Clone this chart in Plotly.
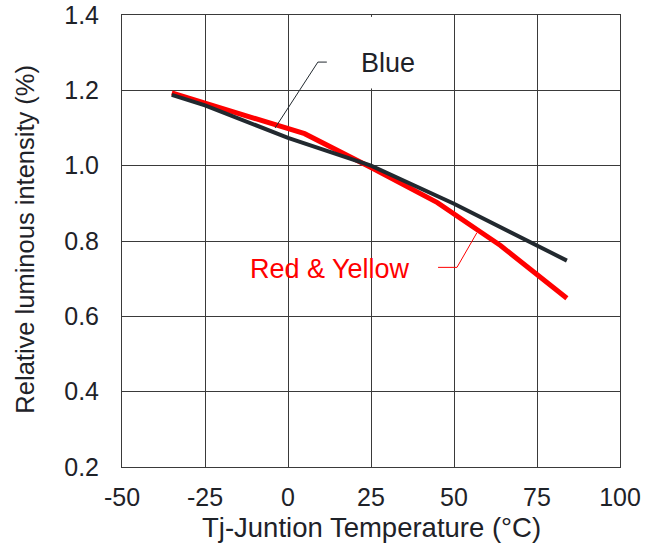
import plotly.graph_objects as go

# Data
blue_x = [-35, -25, 0, 25, 50, 75, 84]
blue_y = [1.188, 1.16, 1.074, 1.0, 0.899, 0.788, 0.748]

red_x = [-35, -15, 5, 25, 45, 57, 64, 84]
red_y = [1.193, 1.14, 1.085, 0.995, 0.902, 0.83, 0.788, 0.648]

# Leader lines for labels
blue_leader_x = [11.7, 9.0, -3.9]
blue_leader_y = [1.275, 1.275, 1.10]
red_leader_x = [45.2, 50.9, 56.9]
red_leader_y = [0.730, 0.730, 0.822]

x_ticks = [-50, -25, 0, 25, 50, 75, 100]
x_tick_text = ["-50", "-25", "0", "25", "50", "75", "100"]
y_ticks = [0.2, 0.4, 0.6, 0.8, 1.0, 1.2, 1.4]
y_tick_text = ["0.2", "0.4", "0.6", "0.8", "1.0", "1.2", "1.4"]

FONT = "Liberation Sans, Arial, sans-serif"
TXT = "#1e2228"
GRID = "#3a3a3a"

fig = go.Figure()
fig.add_trace(go.Scatter(x=red_x, y=red_y, mode="lines",
                         line=dict(color="#ff0000", width=5), showlegend=False))
fig.add_trace(go.Scatter(x=blue_x, y=blue_y, mode="lines",
                         line=dict(color="#22292f", width=4), showlegend=False))
fig.add_trace(go.Scatter(x=blue_leader_x, y=blue_leader_y, mode="lines",
                         line=dict(color="#22292f", width=1), showlegend=False))
fig.add_trace(go.Scatter(x=red_leader_x, y=red_leader_y, mode="lines",
                         line=dict(color="#ff0000", width=1), showlegend=False))

fig.add_annotation(x=30.1, y=1.273, text="Blue", showarrow=False,
                   font=dict(family=FONT, size=27, color=TXT))
fig.add_annotation(x=12.65, y=0.727, text="Red &amp; Yellow", showarrow=False,
                   font=dict(family=FONT, size=27, color="#ff0000"))

# axis titles
fig.add_annotation(xref="paper", yref="paper", x=0.5, y=-0.133,
                   xanchor="center", yanchor="middle", showarrow=False,
                   text="Tj-Juntion Temperature (°C)",
                   font=dict(family=FONT, size=27.5, color=TXT))
fig.add_annotation(xref="paper", yref="paper", x=-0.195, y=0.505,
                   xanchor="center", yanchor="middle", showarrow=False,
                   textangle=-90, text="Relative luminous intensity (%)",
                   font=dict(family=FONT, size=25.5, color=TXT))

# white gap in the 25 gridline behind the "Blue" label
fig.add_shape(type="rect", x0=24.2, x1=25.8, y0=1.205, y1=1.395,
              fillcolor="white", line=dict(width=0), layer="above")

fig.update_layout(
    width=656, height=546,
    margin=dict(l=122, r=36, t=15, b=79, autoexpand=False),
    paper_bgcolor="white", plot_bgcolor="white",
    font=dict(family=FONT, size=25, color=TXT),
)
fig.update_xaxes(range=[-50, 100], tickvals=x_ticks, ticktext=x_tick_text,
                 showgrid=True, gridcolor=GRID, gridwidth=1, showline=True,
                 mirror=True, linecolor=GRID, linewidth=1, zeroline=False,
                 automargin=False, ticks="", ticklabelstandoff=8,
                 ticklabeloverflow="allow", tickfont=dict(size=25))
fig.update_yaxes(range=[0.2, 1.4], tickvals=y_ticks, ticktext=y_tick_text,
                 showgrid=True, gridcolor=GRID, gridwidth=1, showline=True,
                 mirror=True, linecolor=GRID, linewidth=1, zeroline=False,
                 automargin=False, ticks="", ticklabelstandoff=17,
                 ticklabeloverflow="allow", tickfont=dict(size=25))

fig.write_html("out.html", config={"displayModeBar": False},
               post_script="document.body.style.margin='0';")
